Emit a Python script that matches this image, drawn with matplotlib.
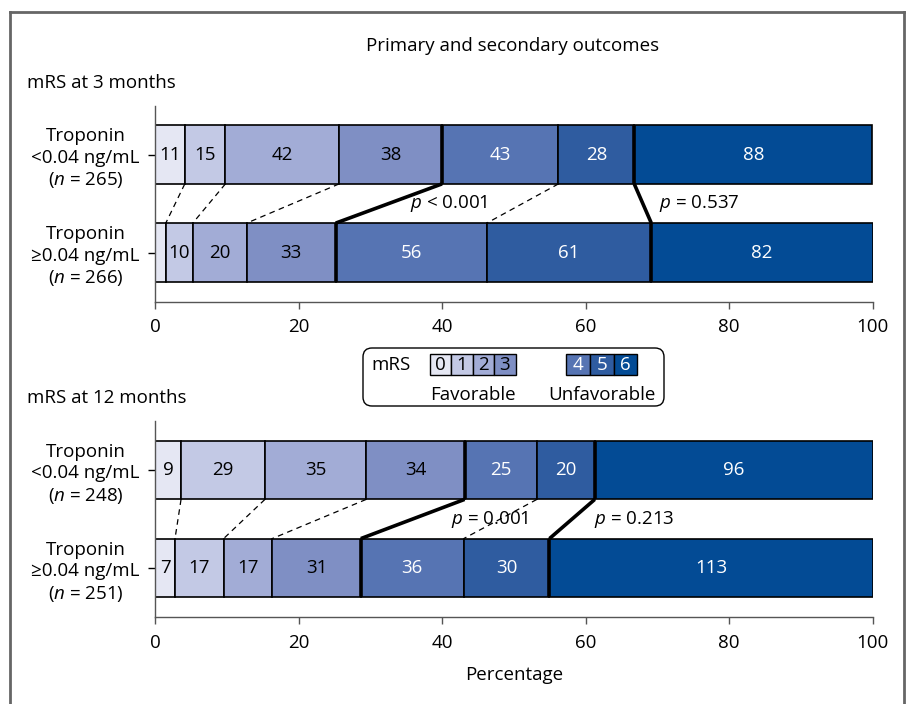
import numpy as np
import matplotlib
matplotlib.use("Agg")
from matplotlib import pyplot as plt
from matplotlib.patches import FancyBboxPatch, Rectangle
from matplotlib.lines import Line2D

W, H = 906, 704
FS = 13.5

style = {
    "font.family": ["Open Sans", "DejaVu Sans"],
    "font.size": FS,
    "mathtext.fontset": "custom",
    "mathtext.rm": "Open Sans",
    "mathtext.it": "Open Sans:italic",
    "axes.linewidth": 1.0,
}
matplotlib.rcParams.update(style)

# ---- data ---------------------------------------------------------------
MRS_LEVELS = ["0", "1", "2", "3", "4", "5", "6"]
COLORS = ["#e5e7f3", "#c3c9e5", "#a2acd6", "#7f8fc4", "#5674b3", "#2f5ca0", "#034b95"]
TEXT_COLORS = ["black"] * 4 + ["white"] * 3

LABELS_3M = ["Troponin\n<0.04 ng/mL\n($\\it{n}$ = 265)",
             "Troponin\n≥0.04 ng/mL\n($\\it{n}$ = 266)"]
COUNTS_3M_LOW = [11, 15, 42, 38, 43, 28, 88]
COUNTS_3M_HIGH = [4, 10, 20, 33, 56, 61, 82]
P_3M = ["< 0.001", "= 0.537"]

LABELS_12M = ["Troponin\n<0.04 ng/mL\n($\\it{n}$ = 248)",
              "Troponin\n≥0.04 ng/mL\n($\\it{n}$ = 251)"]
COUNTS_12M_LOW = [9, 29, 35, 34, 25, 20, 96]
COUNTS_12M_HIGH = [7, 17, 17, 31, 36, 30, 113]
P_12M = ["= 0.001", "= 0.213"]

X_TICKS = [0, 20, 40, 60, 80, 100]

# layout of the p-value annotations (percentage axis units)
P_X_3M = [35.6, 70.3]
P_X_12M = [41.2, 61.2]

BAR_H = 0.6
THICK = (3, 5)  # boundaries after mRS 3 (favorable/unfavorable) and mRS 5 (death)


def px(x, y):
    """pixel position from top-left -> figure fraction"""
    return x / W, 1 - y / H


def draw_panel(ax, counts_pair, labels, p_texts, p_x):
    cums = []
    for row, counts in enumerate(counts_pair):
        counts = np.asarray(counts, dtype=float)
        pct = counts / counts.sum() * 100
        cum = np.cumsum(pct)
        left = cum - pct
        cums.append(cum)
        ax.barh([row] * len(pct), pct, left=left, height=BAR_H, color=COLORS,
                edgecolor="black", linewidth=1.2, zorder=2)
        for k in THICK:
            ax.plot([cum[k], cum[k]], [row - BAR_H / 2, row + BAR_H / 2],
                    color="black", lw=2.6, zorder=3, solid_capstyle="butt")
        for n, l, w, tc in zip(counts, left, pct, TEXT_COLORS):
            if w > 2:
                ax.text(l + w / 2, row, f"{int(n)}", ha="center", va="center",
                        color=tc, fontsize=FS, zorder=4)

    top, bottom = cums
    for k in range(len(top) - 1):
        if k in THICK:
            ax.plot([top[k], bottom[k]], [BAR_H / 2, 1 - BAR_H / 2],
                    color="black", lw=2.6, zorder=3, solid_capstyle="butt")
        else:
            ax.plot([top[k], bottom[k]], [BAR_H / 2, 1 - BAR_H / 2],
                    color="black", lw=0.9, ls=(0, (4.5, 3.5)), zorder=3)

    for txt, x in zip(p_texts, p_x):
        ax.text(x, 0.5, "$\\it{p}$ " + txt, ha="left", va="center", fontsize=FS, zorder=5)

    ax.set_xlim(0, 100)
    ax.set_ylim(1.5, -0.5)
    ax.set_xticks(X_TICKS)
    ax.set_yticks([0, 1])
    ax.set_yticklabels(labels, multialignment="center", linespacing=1.25)
    for side in ("top", "right"):
        ax.spines[side].set_visible(False)
    for side in ("left", "bottom"):
        ax.spines[side].set_color("#555555")
    ax.tick_params(axis="x", length=5, width=1, color="#555555", pad=7, labelsize=FS)
    ax.tick_params(axis="y", length=5, width=1, color="black", pad=6, labelsize=FS)


fig = plt.figure(figsize=(W / 100, H / 100), dpi=100)

ax_w = (872.5 - 155) / W
ax_h = 196 / H
ax1 = fig.add_axes([155 / W, (H - 301.5) / H, ax_w, ax_h])
ax2 = fig.add_axes([155 / W, (H - 617) / H, ax_w, ax_h])

draw_panel(ax1, [COUNTS_3M_LOW, COUNTS_3M_HIGH], LABELS_3M, P_3M, P_X_3M)
draw_panel(ax2, [COUNTS_12M_LOW, COUNTS_12M_HIGH], LABELS_12M, P_12M, P_X_12M)
ax2.set_xlabel("Percentage", fontsize=FS, labelpad=10)

# titles
fig.text(*px(513, 46), "Primary and secondary outcomes", ha="center", va="center", fontsize=FS)
fig.text(*px(27, 83), "mRS at 3 months", ha="left", va="center", fontsize=FS)
fig.text(*px(27, 398), "mRS at 12 months", ha="left", va="center", fontsize=FS)

# outer frame (open at the bottom)
x0, y0 = px(10, 12)
x1, _ = px(904, 12)
fig.add_artist(Line2D([x0, x0], [y0, -0.1], color="#666666", lw=2))
fig.add_artist(Line2D([x0, x1], [y0, y0], color="#666666", lw=2))
fig.add_artist(Line2D([x1, x1], [y0, -0.1], color="#666666", lw=2))

# legend, drawn in its own pixel-unit axes
lx0, ly1 = px(362, 407)
lx1, ly0 = px(665, 347)
lg = fig.add_axes([lx0, ly1, lx1 - lx0, ly0 - ly1])
lg.set_xlim(0, 303)
lg.set_ylim(60, 0)
lg.axis("off")
lg.add_patch(FancyBboxPatch((1, 1), 301, 58, boxstyle="round,pad=0,rounding_size=9",
                            fc="white", ec="black", lw=1.0))
lg.text(29, 18, "mRS", ha="center", va="center", fontsize=FS)
fav_w, unf_w = 21.4, 23.8
for i in range(4):
    bx = 68 + i * fav_w
    lg.add_patch(Rectangle((bx, 7), fav_w, 21, fc=COLORS[i], ec="black", lw=1.0))
    lg.text(bx + fav_w / 2, 17.5, MRS_LEVELS[i], ha="center", va="center",
            color=TEXT_COLORS[i], fontsize=FS)
for j, i in enumerate(range(4, 7)):
    bx = 204 + j * unf_w
    lg.add_patch(Rectangle((bx, 7), unf_w, 21, fc=COLORS[i], ec="black", lw=1.0))
    lg.text(bx + unf_w / 2, 17.5, MRS_LEVELS[i], ha="center", va="center",
            color=TEXT_COLORS[i], fontsize=FS)
lg.text(68 + 2 * fav_w, 48, "Favorable", ha="center", va="center", fontsize=FS)
lg.text(204 + 1.5 * unf_w, 48, "Unfavorable", ha="center", va="center", fontsize=FS)

fig.savefig("out.png", dpi=100)
